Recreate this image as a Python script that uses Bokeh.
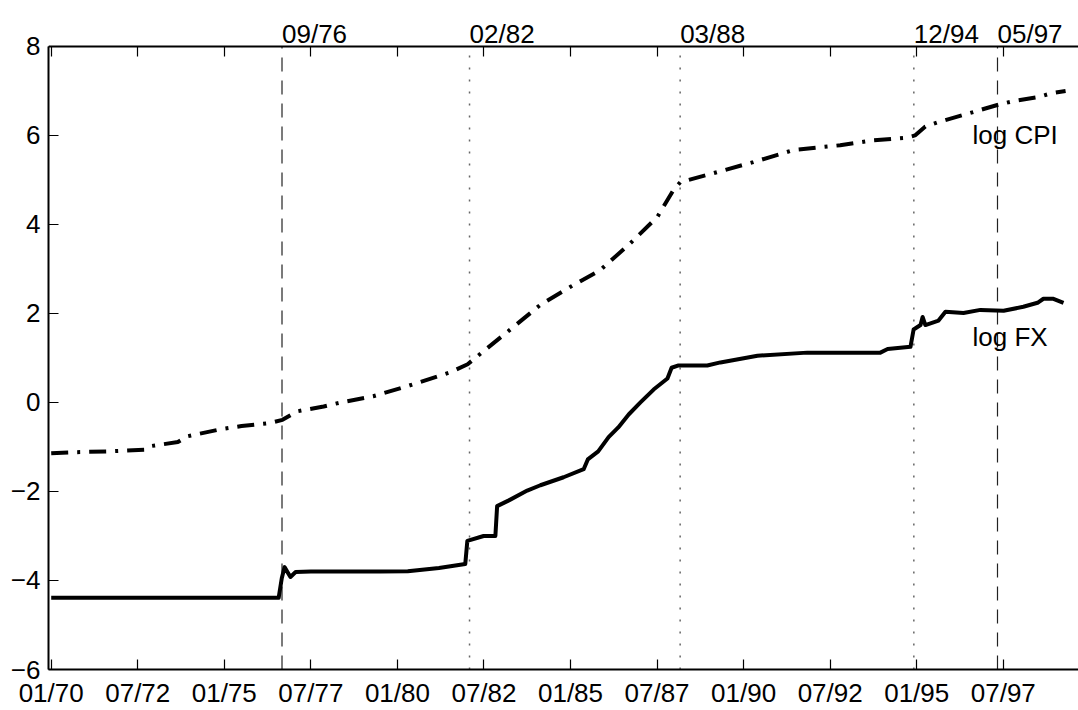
from bokeh.plotting import figure
from bokeh.models import (Range1d, FixedTicker, LinearAxis, ColumnDataSource,
                          CustomJSTickFormatter)
from bokeh.embed import file_html
from bokeh.resources import INLINE
from bokeh.core.properties import value

# ---------------- data ----------------
cpi_dates = [1970.0, 1970.6, 1971.6, 1972.7, 1972.87, 1973.66, 1973.94, 1974.9,
             1975.5, 1976.33, 1976.68, 1977.1, 1977.87, 1978.36, 1979.3, 1980.3,
             1981.53, 1982.03, 1982.5, 1983.2, 1984.14, 1985.0, 1985.87, 1986.73,
             1987.51, 1987.97, 1988.17, 1989.12, 1990.28, 1991.43, 1992.79,
             1993.74, 1994.72, 1994.95, 1995.25, 1995.63, 1996.3, 1997.4,
             1997.85, 1998.5, 1998.9, 1999.3]
cpi_values = [-1.14, -1.12, -1.10, -1.06, -0.98, -0.89, -0.76, -0.60,
              -0.53, -0.46, -0.39, -0.20, -0.09, 0.00, 0.14, 0.37,
              0.68, 0.86, 1.16, 1.60, 2.20, 2.60, 2.98, 3.58,
              4.17, 4.77, 4.95, 5.15, 5.40, 5.67, 5.78,
              5.89, 5.95, 6.00, 6.20, 6.30, 6.45, 6.70,
              6.78, 6.86, 6.95, 7.00]

fx_dates = [1970.0, 1976.57, 1976.66, 1976.74, 1976.91, 1977.06, 1977.5, 1978.5,
            1979.5, 1980.3, 1981.2, 1981.96, 1982.02, 1982.49, 1982.83, 1982.88,
            1983.22, 1983.75, 1984.13, 1984.8, 1985.38, 1985.5, 1985.8, 1986.1,
            1986.38, 1986.68, 1987.02, 1987.4, 1987.8, 1987.92, 1988.1, 1988.95,
            1989.33, 1990.4, 1991.84, 1992.8, 1993.95, 1994.16, 1994.82, 1994.91,
            1995.11, 1995.17, 1995.25, 1995.63, 1995.83, 1996.35, 1996.84,
            1997.51, 1998.08, 1998.49, 1998.66, 1998.95, 1999.24]
fx_values = [-4.39, -4.39, -3.95, -3.70, -3.92, -3.81, -3.80, -3.80,
             -3.80, -3.79, -3.72, -3.63, -3.11, -3.00, -3.00, -2.33,
             -2.20, -1.98, -1.86, -1.68, -1.50, -1.28, -1.10, -0.78,
             -0.56, -0.27, 0.00, 0.29, 0.54, 0.78, 0.83, 0.83,
             0.90, 1.05, 1.12, 1.12, 1.12, 1.20, 1.25, 1.64,
             1.74, 1.92, 1.74, 1.84, 2.04, 2.01, 2.08,
             2.06, 2.15, 2.24, 2.33, 2.33, 2.24]

x_tick_labels = ["01/70", "07/72", "01/75", "07/77", "01/80", "07/82",
                 "01/85", "07/87", "01/90", "07/92", "01/95", "07/97"]
y_ticks = [-6, -4, -2, 0, 2, 4, 6, 8]

event_labels = ["09/76", "02/82", "03/88", "12/94", "05/97"]
event_styles = ["dashed", "dotted", "dotted", "dotted", "dashed"]

series_names = ["log CPI", "log FX"]


def mm_yy_to_year(s):
    m, y = s.split("/")
    return 1900 + int(y) + (int(m) - 1) / 12.0


x_tick_dates = [mm_yy_to_year(s) for s in x_tick_labels]
event_dates = [mm_yy_to_year(s) for s in event_labels]

Y_MIN, Y_MAX = y_ticks[0], y_ticks[-1]

# ---------------- figure ----------------
FONT = "Liberation Sans"
FS = "26px"

# the frame reaches the top of the canvas so that the event labels
# (drawn above the y=8 box edge) are not clipped
PX_PER_UNIT = 624 / (Y_MAX - Y_MIN)
y_top = Y_MAX + 46 / PX_PER_UNIT

p = figure(width=1078, height=710,
           x_range=Range1d(1969.922, 1999.673), y_range=Range1d(Y_MIN, y_top),
           x_axis_type=None, y_axis_type=None,
           output_backend="svg", toolbar_location=None,
           min_border_left=48, min_border_right=0,
           min_border_top=0, min_border_bottom=38)
p.outline_line_color = None
p.xgrid.visible = False
p.ygrid.visible = False
p.background_fill_color = "white"
p.border_fill_color = "white"


def style_axis(ax):
    ax.major_tick_in = 10
    ax.major_tick_out = 0
    ax.minor_tick_in = 0
    ax.minor_tick_out = 0
    ax.axis_line_width = 2
    ax.axis_line_color = "black"
    ax.major_tick_line_width = 1.2
    ax.major_tick_line_color = "black"
    ax.major_label_text_font = FONT
    ax.major_label_text_font_size = FS
    ax.major_label_text_color = "black"


xb = LinearAxis(ticker=FixedTicker(ticks=x_tick_dates),
                major_label_overrides={d: s for d, s in zip(x_tick_dates, x_tick_labels)})
style_axis(xb)
xb.major_label_standoff = 8
p.add_layout(xb, "below")

# top edge of the box (at y = 8) with inward ticks
xt = LinearAxis(ticker=FixedTicker(ticks=x_tick_dates), fixed_location=Y_MAX,
                formatter=CustomJSTickFormatter(code="return '';"))
style_axis(xt)
xt.major_label_standoff = 0
xt.major_label_text_font_size = "1px"
p.add_layout(xt, "above")

yl = LinearAxis(ticker=FixedTicker(ticks=y_ticks), bounds=(Y_MIN, Y_MAX),
                formatter=CustomJSTickFormatter(
                    code="return tick < 0 ? '\\u2212' + Math.abs(tick) : String(tick);"))
style_axis(yl)
yl.major_label_standoff = 8
p.add_layout(yl, "left")

# event lines (from the bottom to the top of the box)
for st in ("dashed", "dotted"):
    xs = [d for d, s in zip(event_dates, event_styles) if s == st]
    src = ColumnDataSource(dict(x=xs, y0=[Y_MIN] * len(xs), y1=[Y_MAX] * len(xs)))
    if st == "dashed":
        p.segment(x0="x", y0="y0", x1="x", y1="y1", source=src,
                  line_color="#222222", line_width=1.2, line_dash="14 9")
    else:
        p.segment(x0="x", y0="y0", x1="x", y1="y1", source=src,
                  line_color="#666666", line_width=1.5, line_dash="2 10")

# series
p.line(cpi_dates, cpi_values, line_color="black", line_width=4,
       line_dash="17 9 3 9")
p.line(fx_dates, fx_values, line_color="black", line_width=4,
       line_join="round")

# event labels above the box, left-aligned on their lines
ev_src = ColumnDataSource(dict(x=event_dates,
                               y=[Y_MAX + 0.29] * len(event_dates),
                               text=event_labels))
p.text(x="x", y="y", text="text", source=ev_src,
       text_font=value(FONT), text_font_size=value(FS),
       text_align="left", text_baseline="alphabetic", text_color="black")

# series labels
lab_src = ColumnDataSource(dict(x=[1996.61, 1996.61], y=[6.0, 1.48],
                                text=series_names))
p.text(x="x", y="y", text="text", source=lab_src,
       text_font=value(FONT), text_font_size=value(FS),
       text_align="left", text_baseline="alphabetic", text_color="black")

open("out.html", "w").write(file_html(p, INLINE))
